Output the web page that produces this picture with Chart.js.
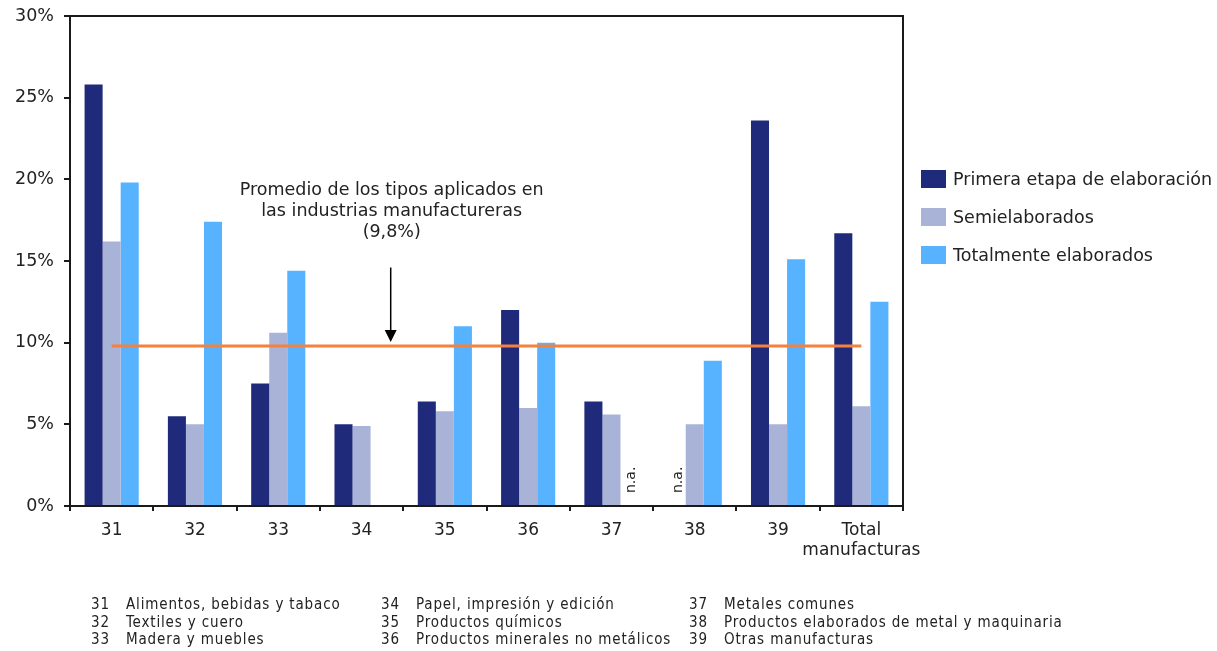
<!DOCTYPE html>
<html lang="es">
<head>
<meta charset="utf-8">
<title>Aranceles por etapa de elaboración</title>
<script src="https://cdn.jsdelivr.net/npm/chart.js@4.4.1/dist/chart.umd.min.js"></script>
<style>
  html, body { margin: 0; padding: 0; background: #fff; }
  #wrap { position: relative; width: 1217px; height: 651px; }
  #grafico { position: absolute; left: 0; top: 0; }
  .notas {
    position: absolute; top: 596px;
    font-family: 'Liberation Sans Narrow', 'DejaVu Sans Condensed', sans-serif;
    font-size: 15px; line-height: 17.5px; color: #222; letter-spacing: 0.85px;
    white-space: nowrap;
  }
  .notas span { display: inline-block; width: 35px; }
</style>
</head>
<body>
<div id="wrap">
  <canvas id="grafico" width="1217" height="651"></canvas>
  <div class="notas" style="left:91px">
    <div><span>31</span>Alimentos, bebidas y tabaco</div>
    <div><span>32</span>Textiles y cuero</div>
    <div><span>33</span>Madera y muebles</div>
  </div>
  <div class="notas" style="left:381px">
    <div><span>34</span>Papel, impresión y edición</div>
    <div><span>35</span>Productos químicos</div>
    <div><span>36</span>Productos minerales no metálicos</div>
  </div>
  <div class="notas" style="left:689px">
    <div><span>37</span>Metales comunes</div>
    <div><span>38</span>Productos elaborados de metal y maquinaria</div>
    <div><span>39</span>Otras manufacturas</div>
  </div>
</div>
<script>
/* ── Datos ── */
const categorias     = ['31', '32', '33', '34', '35', '36', '37', '38', '39', ['Total', 'manufacturas']];
const primeraEtapa   = [25.8, 5.5, 7.5, 5.0, 6.4, 12.0, 6.4, null, 23.6, 16.7];
const semielaborados = [16.2, 5.0, 10.6, 4.9, 5.8, 6.0, 5.6, 5.0, 5.0, 6.1];
const totalmente     = [19.8, 17.4, 14.4, null, 11.0, 10.0, null, 8.9, 15.1, 12.5];
const promedio       = 9.8;
const ticksY         = [0, 5, 10, 15, 20, 25, 30];
const notaPromedio   = ['Promedio de los tipos aplicados en', 'las industrias manufactureras', '(9,8%)'];

const FUENTE = "'DejaVu Sans', Verdana, sans-serif";
const TINTA  = '#222';

/* ── Marcos superior/derecho, n.a., flecha y leyenda ── */
const extras = {
  id: 'extras',
  afterDraw(chart) {
    const { ctx, chartArea: a, scales: { x, y } } = chart;
    ctx.save();

    // caja del área de trazado (arriba y derecha)
    ctx.strokeStyle = '#1a1a1a';
    ctx.lineWidth = 2;
    ctx.beginPath();
    ctx.moveTo(a.left, a.top);
    ctx.lineTo(a.right, a.top);
    ctx.lineTo(a.right, a.bottom);
    ctx.stroke();

    // "n.a." en las barras sin dato
    ctx.fillStyle = TINTA;
    ctx.font = `14px ${FUENTE}`;
    ctx.textAlign = 'left';
    ctx.textBaseline = 'middle';
    chart.data.datasets.forEach((ds, di) => {
      if (ds.type === 'line') return;
      const meta = chart.getDatasetMeta(di);
      ds.data.forEach((v, i) => {
        if (v !== null || !ds.naLabel?.includes(i)) return;
        const bx = meta.data[i].x;
        ctx.save();
        ctx.translate(bx + 2, y.getPixelForValue(0) - 13);
        ctx.rotate(-Math.PI / 2);
        ctx.fillText('n.a.', 0, 0);
        ctx.restore();
      });
    });

    // flecha hacia la línea de promedio
    const ax   = x.getPixelForValue(3.35);
    const yTop = y.getPixelForValue(14.6);
    const yTip = y.getPixelForValue(promedio) - 4;
    ctx.strokeStyle = '#000';
    ctx.fillStyle = '#000';
    ctx.lineWidth = 1.5;
    ctx.beginPath();
    ctx.moveTo(ax, yTop);
    ctx.lineTo(ax, yTip - 10);
    ctx.stroke();
    ctx.beginPath();
    ctx.moveTo(ax - 6, yTip - 12);
    ctx.lineTo(ax + 6, yTip - 12);
    ctx.lineTo(ax, yTip);
    ctx.closePath();
    ctx.fill();

    // texto del promedio
    ctx.fillStyle = TINTA;
    ctx.font = `17.5px ${FUENTE}`;
    ctx.textAlign = 'center';
    ctx.textBaseline = 'middle';
    notaPromedio.forEach((t, i) => ctx.fillText(t, ax + 1, yTop - 77 + i * 21));

    // leyenda
    const lx = a.right + 18;
    let ly = 170;
    ctx.textAlign = 'left';
    chart.data.datasets.filter(d => d.type !== 'line').forEach(ds => {
      ctx.fillStyle = ds.backgroundColor;
      ctx.fillRect(lx, ly, 25, 18);
      ctx.fillStyle = TINTA;
      ctx.fillText(ds.label, lx + 32, ly + 10);
      ly += 38;
    });

    ctx.restore();
  }
};

/* ── Gráfico ── */
const barra = (label, data, color, naLabel = []) => ({
  type: 'bar',
  label,
  data,
  naLabel,
  backgroundColor: color,
  borderWidth: 0,
  categoryPercentage: 0.65,
  barPercentage: 1.0,
  order: 1,
});

new Chart(document.getElementById('grafico'), {
  data: {
    labels: categorias,
    datasets: [
      barra('Primera etapa de elaboración', primeraEtapa, '#1F2A7B', [7]),
      barra('Semielaborados', semielaborados, '#A9B3D8'),
      barra('Totalmente elaborados', totalmente, '#57B2FF', [6]),
      {
        type: 'line',
        label: 'Promedio',
        data: categorias.map(() => promedio),
        borderColor: '#F5823C',
        borderWidth: 3,
        pointRadius: 0,
        order: 0,
      },
    ],
  },
  options: {
    responsive: false,
    animation: false,
    layout: { padding: { top: 16, right: 314, bottom: 85, left: 0 } },
    plugins: { legend: { display: false }, tooltip: { enabled: false } },
    scales: {
      x: {
        offset: true,
        grid: { display: true, offset: true, drawOnChartArea: false, drawTicks: true, tickLength: 5, color: '#1a1a1a', lineWidth: 2 },
        border: { display: true, color: '#1a1a1a', width: 2 },
        ticks: { color: TINTA, font: { family: FUENTE, size: 17, lineHeight: 1.2 }, padding: 9, maxRotation: 0, autoSkip: false },
        afterFit: s => { s.height = 60; },
      },
      y: {
        min: 0,
        max: 30,
        afterBuildTicks: s => { s.ticks = ticksY.map(v => ({ value: v })); },
        grid: { display: true, drawOnChartArea: false, drawTicks: true, tickLength: 6, color: '#1a1a1a', lineWidth: 2 },
        border: { display: true, color: '#1a1a1a', width: 2 },
        ticks: { color: TINTA, font: { family: FUENTE, size: 17.5 }, padding: 10, callback: v => v + '%' },
        afterFit: s => { s.width = 70; s.paddingTop = 0; s.paddingBottom = 0; },
      },
    },
  },
  plugins: [extras],
});
</script>
</body>
</html>
